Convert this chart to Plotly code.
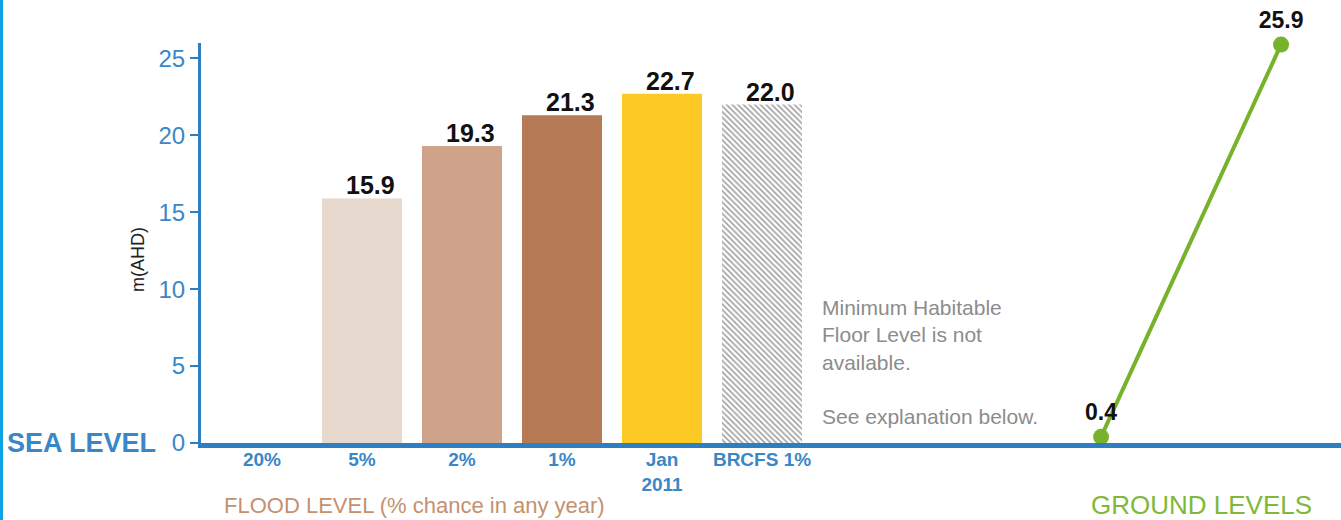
import plotly.graph_objects as go

# ---- data ----
flood_categories = ["20%", "5%", "2%", "1%", "Jan<br>2011", "BRCFS 1%"]
flood_values = [None, 15.9, 19.3, 21.3, 22.7, 22.0]
flood_colors = ["#e8d9ce", "#e8d9ce", "#cfa389", "#b67a55", "#fdc924", "#ffffff"]
flood_patterns = ["", "", "", "", "", "\\"]

ground_points = ["Lowest ground", "Highest ground"]
ground_values = [0.4, 25.9]

y_ticks = [0, 5, 10, 15, 20, 25]

FONT = "Liberation Sans, Arial, sans-serif"
BLUE = "#2e7fc1"
TICKBLUE = "#3a87c8"

L, R, T, B = 201, 0, 43, 77
W, H = 1341, 520
PW, PH = W - L - R, H - T - B

fig = go.Figure()

fig.add_trace(go.Bar(
    x=flood_categories, y=flood_values, width=0.8,
    marker=dict(color=flood_colors, line=dict(width=0),
                pattern=dict(shape=flood_patterns, fgcolor="#a3a3a3",
                             bgcolor="#ffffff", size=4, solidity=0.4)),
    hoverinfo="skip", showlegend=False, xaxis="x", yaxis="y",
))

fig.add_trace(go.Scatter(
    x=ground_points, y=ground_values, mode="lines+markers+text",
    line=dict(color="#77b22b", width=4),
    marker=dict(color="#77b22b", size=16),
    text=[f"{v:.1f}" for v in ground_values], textposition="top center",
    textfont=dict(family=FONT, size=23, color="#111111", weight="bold"),
    showlegend=False, xaxis="x2", yaxis="y", cliponaxis=False, hoverinfo="skip",
))

# value labels above bars
for c, v in zip(flood_categories, flood_values):
    if v is None:
        continue
    fig.add_annotation(x=c, y=v, xref="x", yref="y", text=f"{v:.1f}",
                       showarrow=False, yanchor="bottom", xshift=8, yshift=-3,
                       font=dict(family=FONT, size=25, color="#111111", weight="bold"))

fig.update_layout(
    width=W, height=H,
    margin=dict(l=L, r=R, t=T, b=B, pad=0),
    paper_bgcolor="white", plot_bgcolor="white",
    font=dict(family=FONT),
    bargap=0.2,
    xaxis=dict(type="category", range=[-0.61, 10.79], showgrid=False, zeroline=False,
               showline=True, linecolor=BLUE, linewidth=5, ticks="",
               ticklabelstandoff=-5,
               tickfont=dict(family=FONT, size=19, color=TICKBLUE, weight="bold"),
               fixedrange=True),
    xaxis2=dict(type="category", range=[-5.0, 1.333], overlaying="x", showgrid=False,
                zeroline=False, showline=False, showticklabels=False, ticks=""),
    yaxis=dict(range=[0, 26], tickvals=y_ticks, showgrid=False, zeroline=False,
               showline=True, linecolor=BLUE, linewidth=3, ticks="outside",
               ticklen=8, tickwidth=2, tickcolor=BLUE,
               tickfont=dict(family=FONT, size=24, color=TICKBLUE)),
)

def px(xp):
    return (xp - L) / PW

def py(yp):
    return (H - B - yp) / PH

fig.add_annotation(xref="paper", yref="paper", x=px(138), y=py(260), text="m(AHD)",
                   textangle=-90, xanchor="center", yanchor="middle", showarrow=False,
                   font=dict(family=FONT, size=18, color="#222222"))
fig.add_annotation(xref="paper", yref="paper", x=px(158), y=py(443), text="SEA LEVEL",
                   xanchor="right", yanchor="middle", showarrow=False,
                   font=dict(family=FONT, size=27, color=TICKBLUE, weight="bold"))
fig.add_annotation(xref="paper", yref="paper", x=px(414), y=py(505),
                   text="FLOOD LEVEL (% chance in any year)",
                   xanchor="center", yanchor="middle", showarrow=False,
                   font=dict(family=FONT, size=22, color="#c4916f"))
fig.add_annotation(xref="paper", yref="paper", x=px(1201), y=py(505), text="GROUND LEVELS",
                   xanchor="center", yanchor="middle", showarrow=False,
                   font=dict(family=FONT, size=26, color="#80b83a"))
fig.add_annotation(xref="paper", yref="paper", x=px(820), y=py(294),
                   text="Minimum Habitable<br>Floor Level is not<br>available.<br><br>See explanation below.",
                   xanchor="left", yanchor="top", align="left", showarrow=False,
                   font=dict(family=FONT, size=21, color="#8c8c8c"))

# left page border
fig.add_shape(type="rect", xref="paper", yref="paper", x0=px(0), x1=px(3),
              y0=py(H), y1=py(0), fillcolor="#0ba3e4", line=dict(width=0), layer="above")

fig.write_html("out.html", config={"displayModeBar": False},
               post_script="document.body.style.margin='0';document.body.style.padding='0';")
